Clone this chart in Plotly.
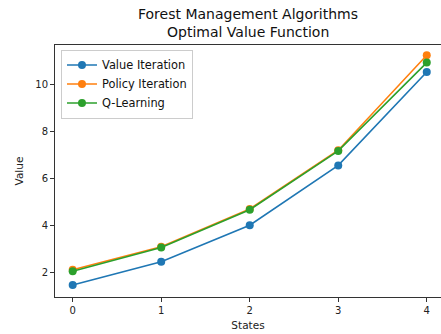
import plotly.graph_objects as go

states = [0, 1, 2, 3, 4]
value_iteration = [1.45, 2.44, 4.0, 6.55, 10.54]
policy_iteration = [2.1, 3.08, 4.69, 7.2, 11.25]
q_learning = [2.03, 3.05, 4.66, 7.17, 10.94]
series_names = ["Value Iteration", "Policy Iteration", "Q-Learning"]
colors = ["#1f77b4", "#ff7f0e", "#2ca02c"]
title_lines = ["Forest Management Algorithms", "Optimal Value Function"]

fig = go.Figure()
for name, vals, c in zip(series_names, [value_iteration, policy_iteration, q_learning], colors):
    fig.add_trace(go.Scatter(
        x=states, y=vals, name=name, mode="lines+markers",
        line=dict(color=c, width=1.6),
        marker=dict(color=c, size=8),
    ))

font = "DejaVu Sans, Arial, sans-serif"
for txt, yp in zip(title_lines, [1.1226, 1.0524]):
    fig.add_annotation(text=txt, xref="paper", yref="paper", x=0.5, y=yp,
                       xanchor="center", yanchor="middle", showarrow=False,
                       font=dict(family=font, size=14, color="#111"))

fig.update_layout(
    width=441, height=334,
    margin=dict(l=55, r=0, t=45, b=37),
    paper_bgcolor="white", plot_bgcolor="white",
    font=dict(family=font, size=10, color="#222"),
    showlegend=True,
    legend=dict(x=0.0155, y=0.982, xanchor="left", yanchor="top",
                bgcolor="rgba(255,255,255,0.85)", bordercolor="#cccccc", borderwidth=1,
                font=dict(size=11.4, color="#111"), itemwidth=30,
                tracegroupgap=0),
    xaxis=dict(range=[-0.2, 4.161], tickmode="array", tickvals=states,
               ticktext=[str(s) for s in states],
               showgrid=False, zeroline=False,
               showline=True, linecolor="#333", linewidth=1, mirror=True,
               ticks="outside", ticklen=4, tickcolor="#333",
               title=dict(text="States", standoff=6, font=dict(size=10.5))),
    yaxis=dict(range=[0.934, 11.69], tickmode="array", tickvals=[2, 4, 6, 8, 10],
               showgrid=False, zeroline=False,
               showline=True, linecolor="#333", linewidth=1,
               ticks="outside", ticklen=4, tickcolor="#333",
               title=dict(text="Value", standoff=9, font=dict(size=10.5))),
)

fig.write_html("out.html")
